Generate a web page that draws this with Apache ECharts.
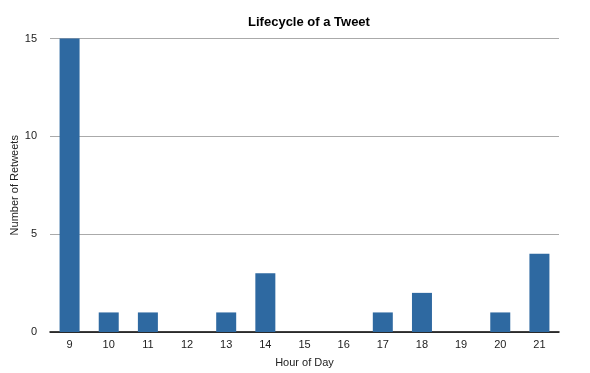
<!DOCTYPE html>
<html><head><meta charset="utf-8">
<script src="https://cdn.jsdelivr.net/npm/echarts@6/dist/echarts.min.js"></script>
<style>html,body{margin:0;padding:0;background:#fff}#c{width:590px;height:373px}</style>
</head><body><div id="c"></div>
<script>
const hours = ['9','10','11','12','13','14','15','16','17','18','19','20','21'];
const retweets = [15,1,1,0,1,3,0,0,1,2,0,1,4];
const yTicks = [0,5,10,15];

const chart = echarts.init(document.getElementById('c'), null, {renderer:'canvas'});
const font = '"Liberation Sans", Arial, sans-serif';
chart.setOption({
  animation:false,
  backgroundColor:'#fff',
  title:{text:'Lifecycle of a Tweet',left:304,top:11,textAlign:'center',
    textStyle:{fontFamily:font,fontSize:13,fontWeight:'bold',color:'#000'}},
  grid:{left:50,right:31,top:38.5,bottom:41,containLabel:false,outerBoundsMode:'none'},
  xAxis:{type:'category',data:hours,name:'Hour of Day',nameLocation:'middle',nameGap:25,
    nameMoveOverlap:false,
    nameTextStyle:{fontFamily:font,fontSize:11,color:'#222'},
    axisLine:{lineStyle:{color:'#000',width:1.5}},axisTick:{show:false},
    axisLabel:{fontFamily:font,fontSize:11,color:'#222',margin:7}},
  yAxis:{type:'value',min:yTicks[0],max:yTicks[yTicks.length-1],interval:5,
    name:'Number of Retweets',nameLocation:'middle',nameGap:30,nameRotate:90,
    nameMoveOverlap:false,
    nameTextStyle:{fontFamily:font,fontSize:11,color:'#222'},
    axisLine:{show:false},axisTick:{show:false},
    axisLabel:{fontFamily:font,fontSize:11,color:'#222',margin:13},
    splitLine:{lineStyle:{color:'#aaa',width:1}}},
  series:[{type:'bar',data:retweets,barWidth:20,itemStyle:{color:'#2e69a1'}}]
});
</script></body></html>
